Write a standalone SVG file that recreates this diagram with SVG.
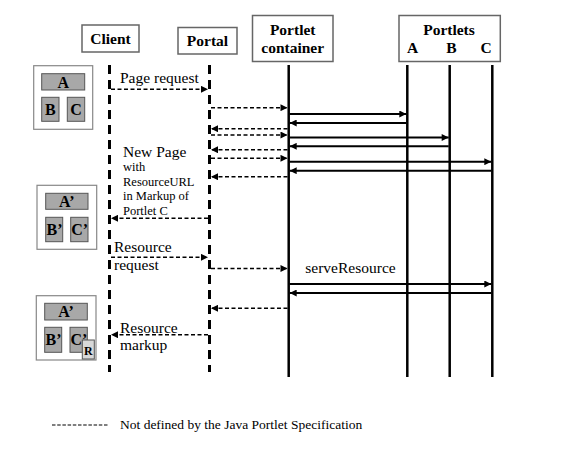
<svg xmlns="http://www.w3.org/2000/svg" width="585" height="459" viewBox="0 0 585 459">
<style>
.hdr{fill:#fff;stroke:#666;stroke-width:1.5}
.ht{font-family:"Liberation Serif",serif;font-weight:bold;font-size:15.5px;fill:#000;text-anchor:middle}
.lbl{font-family:"Liberation Serif",serif;font-size:15.5px;fill:#000}
.sm{font-family:"Liberation Serif",serif;font-size:12.5px;fill:#000}
.outer{fill:#fff;stroke:#888;stroke-width:1.2}
.inner{fill:#a8a8a8;stroke:#555;stroke-width:1}
.bt{font-family:"Liberation Serif",serif;font-weight:bold;font-size:16px;fill:#000;text-anchor:middle}
.life{stroke:#000;stroke-width:3;stroke-dasharray:9 6;fill:none}
.solidlife{stroke:#000;stroke-width:2.5;fill:none}
.da{stroke:#000;stroke-width:1.6;stroke-dasharray:4 2.5;fill:none;marker-end:url(#ah)}
.sa{stroke:#000;stroke-width:2;fill:none;marker-end:url(#ah)}
</style>
<defs>
<marker id="ah" viewBox="0 0 10 10" refX="10" refY="5" markerWidth="8" markerHeight="7" markerUnits="userSpaceOnUse" orient="auto">
<path d="M0,0 L10,5 L0,10 z" fill="#000"/>
</marker>
</defs>
<rect width="585" height="459" fill="#fff"/>

<g id="client">
<rect class="hdr" x="82" y="25" width="57" height="27"/>
<text class="ht" x="110.5" y="44">Client</text>
<line class="life" x1="109.5" y1="65" x2="109.5" y2="372"/>
</g>
<g id="portal">
<rect class="hdr" x="178" y="27.5" width="59" height="26.5"/>
<text class="ht" x="207.5" y="46">Portal</text>
<line class="life" x1="209.5" y1="65" x2="209.5" y2="372"/>
</g>
<g id="container">
<rect class="hdr" x="252.5" y="15.5" width="80.5" height="46"/>
<text class="ht" x="292.7" y="34.7">Portlet</text>
<text class="ht" x="292.7" y="53.3">container</text>
<line class="solidlife" x1="288.7" y1="65" x2="288.7" y2="377"/>
</g>
<g id="portlets">
<rect class="hdr" x="399" y="15.5" width="101.3" height="46"/>
<text class="ht" x="449" y="34.7">Portlets</text>
<text class="ht" x="412.5" y="53.3">A</text>
<text class="ht" x="451.5" y="53.3">B</text>
<text class="ht" x="486" y="53.3">C</text>
<line class="solidlife" x1="407.3" y1="65" x2="407.3" y2="377"/>
<line class="solidlife" x1="449.7" y1="65" x2="449.7" y2="377"/>
<line class="solidlife" x1="492.3" y1="65" x2="492.3" y2="377"/>
</g>

<g id="page1">
<rect class="outer" x="33.7" y="65.7" width="59" height="63.6"/>
<rect class="inner" x="41.7" y="73.7" width="43" height="16.3"/>
<text class="bt" x="63.2" y="87.5">A</text>
<rect class="inner" x="41.7" y="97.3" width="17.3" height="24"/>
<text class="bt" x="50.3" y="115">B</text>
<rect class="inner" x="67.3" y="97.3" width="17.4" height="24"/>
<text class="bt" x="76" y="115">C</text>
</g>
<g id="page2">
<rect class="outer" x="37" y="185.3" width="59.7" height="64"/>
<rect class="inner" x="45.7" y="193.3" width="42.3" height="16"/>
<text class="bt" x="66.8" y="207">A’</text>
<rect class="inner" x="45.7" y="217.3" width="17" height="24.4"/>
<text class="bt" x="54.5" y="235">B’</text>
<rect class="inner" x="70.7" y="217.3" width="17.3" height="24.4"/>
<text class="bt" x="79.6" y="235">C’</text>
</g>
<g id="page3">
<rect class="outer" x="36.3" y="295.7" width="59.7" height="64.3"/>
<rect class="inner" x="44.7" y="303.3" width="42.6" height="16.7"/>
<text class="bt" x="66" y="317.3">A’</text>
<rect class="inner" x="44.7" y="327.3" width="17" height="25"/>
<text class="bt" x="53.5" y="345">B’</text>
<rect class="inner" x="70" y="327.3" width="17.3" height="25"/>
<text class="bt" x="79" y="345">C’</text>
<rect x="82.3" y="340" width="12" height="19" fill="#d8d8d8" stroke="#555" stroke-width="1"/>
<text x="88.3" y="355" font-family="Liberation Serif, serif" font-weight="bold" font-size="12px" text-anchor="middle">R</text>
</g>

<g id="connectors">
<line class="da" x1="111" y1="89.3" x2="208" y2="89.3"/>
<line class="da" x1="211" y1="107.7" x2="287.5" y2="107.7"/>
<line class="sa" x1="289.5" y1="114" x2="406.3" y2="114"/>
<line class="sa" x1="406.3" y1="123" x2="289.7" y2="123"/>
<line class="da" x1="287.5" y1="128.7" x2="211" y2="128.7"/>
<line class="da" x1="211" y1="135" x2="287.5" y2="135"/>
<line class="sa" x1="289.5" y1="137.5" x2="448.7" y2="137.5"/>
<line class="sa" x1="448.7" y1="146.3" x2="289.7" y2="146.3"/>
<line class="da" x1="287.5" y1="149.7" x2="211" y2="149.7"/>
<line class="da" x1="211" y1="158.3" x2="287.5" y2="158.3"/>
<line class="sa" x1="289.5" y1="161.7" x2="491.3" y2="161.7"/>
<line class="sa" x1="491.3" y1="170.7" x2="289.7" y2="170.7"/>
<line class="da" x1="287.5" y1="176.7" x2="211" y2="176.7"/>
<line class="da" x1="208" y1="218.3" x2="111" y2="218.3"/>
<line class="da" x1="111" y1="257.3" x2="208" y2="257.3"/>
<line class="da" x1="211" y1="268.5" x2="287.5" y2="268.5"/>
<line class="sa" x1="289.5" y1="284" x2="491.3" y2="284"/>
<line class="sa" x1="491.3" y1="293" x2="289.7" y2="293"/>
<line class="da" x1="287.5" y1="308.3" x2="211" y2="308.3"/>
<line class="da" x1="208" y1="334.7" x2="111" y2="334.7"/>
</g>

<g id="labels">
<text class="lbl" x="120" y="82.7">Page request</text>
<text class="lbl" x="123" y="156.7">New Page</text>
<text class="sm" x="123" y="171">with</text>
<text class="sm" x="123" y="186">ResourceURL</text>
<text class="sm" x="123" y="200.3">in Markup of</text>
<text class="sm" x="123" y="214.5">Portlet C</text>
<text class="lbl" x="114" y="252.3">Resource</text>
<text class="lbl" x="114" y="270">request</text>
<text class="lbl" x="305.3" y="272.7">serveResource</text>
<text class="lbl" x="120" y="332.7">Resource</text>
<text class="lbl" x="120" y="350">markup</text>
</g>

<g id="legend">
<line x1="52" y1="425" x2="109" y2="425" stroke="#000" stroke-width="1.2" stroke-dasharray="3.5 1.7"/>
<text x="120" y="429.3" font-family="Liberation Serif, serif" font-size="13.5px">Not defined by the Java Portlet Specification</text>
</g>
</svg>
